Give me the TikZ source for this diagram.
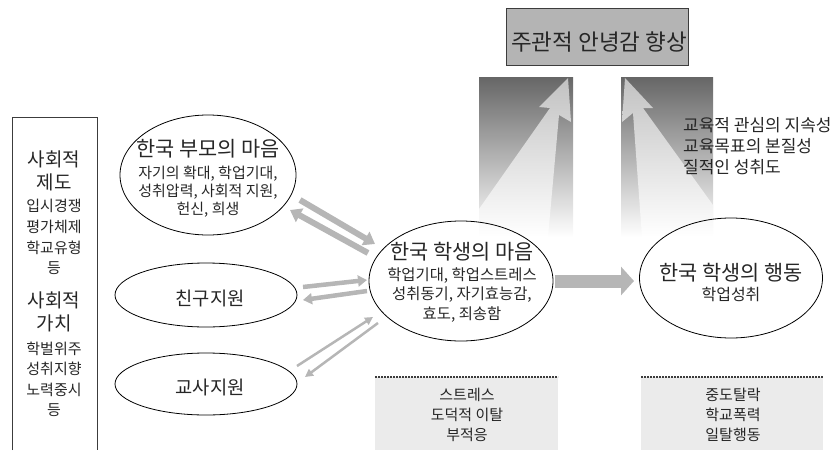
\documentclass[tikz,border=0pt]{standalone}
\usepackage{fontspec}
\setmainfont{Noto Sans CJK KR}
\usetikzlibrary{arrows.meta,shapes.geometric}
\definecolor{arrgray}{RGB}{182,182,182}
\definecolor{boxgray}{RGB}{180,180,180}
\definecolor{lightbox}{RGB}{235,235,235}
\definecolor{linegray}{RGB}{60,60,60}
\newcommand{\fsz}[2]{\fontsize{#1}{#2}\selectfont}
\begin{document}
\begin{tikzpicture}[x=1pt,y=-1pt,
  oval/.style={draw=black, line width=0.8pt, ellipse, inner sep=0pt},
  txt/.style={align=center, inner sep=0pt, text=black!85},
  fatarrow/.style={draw=arrgray, line width=6pt, -{Triangle[width=15pt,length=11pt]}},
  midarrow/.style={draw=arrgray, line width=4.5pt, -{Triangle[width=11pt,length=9pt]}},
  thinarrow/.style={draw=arrgray, line width=2.5pt, -{Triangle[width=8pt,length=8pt]}},
  hugearrow/.style={draw=arrgray, line width=13pt, -{Triangle[width=28pt,length=13pt]}},
  panel/.style={top color=black!60, middle color=black!28, bottom color=white},
  upshaft/.style={top color=black!24, bottom color=white}
]
\useasboundingbox (0,0) rectangle (833,450);

% left box
\draw[linegray, line width=1pt] (12,450) -- (12,117) -- (97,117) -- (97,450);
\node[txt, font=\fsz{15}{20.7}] (inst) at (54,213) {{\fsz{19}{20.7}사회적}\\[2.3pt]{\fsz{19}{20.7}제도}\\[1.3pt]입시경쟁\\평가체제\\학교유형\\등};
\node[txt, font=\fsz{15}{20.5}] (vals) at (54,354) {{\fsz{19}{20.5}사회적}\\[2.5pt]{\fsz{19}{20.5}가치}\\[3.5pt]학벌위주\\성취지향\\노력중시\\등};

% top box
\node[draw=linegray, line width=1pt, fill=boxgray, minimum width=182pt, minimum height=57pt, inner sep=0pt] (well) at (597,36.5) {};
\node[txt, font=\fsz{22.5}{26}] (wellT) at (599,42) {주관적 안녕감 향상};

% gradient panels with arrows
\shade[panel] (479,77) rectangle (573,237);
\shade[panel] (621,77) rectangle (713,237);
\shade[upshaft] (568,78) -- (571,122) -- (559,115) -- (548,237) -- (479,237) -- (479,209) -- (550,108) -- (539,107) -- cycle;
\shade[upshaft] (625,78) -- (653,108) -- (643,108) -- (713,205) -- (713,237) -- (642,237) -- (633,113) -- (622,122) -- cycle;

\node[txt, anchor=west, align=left, font=\fsz{17}{21}] (goals) at (683,146) {교육적 관심의 지속성\\교육목표의 본질성\\질적인 성취도};

% ellipses
\node[oval, minimum width=176pt, minimum height=120pt] (parent) at (208,175) {};
\node[txt, font=\fsz{15}{17.8}] (parentT) at (208,178.5) {{\fsz{20.8}{17.8}한국 부모의 마음}\\[4pt]자기의 확대, 학업기대,\\성취압력, 사회적 지원,\\헌신, 희생};

\node[oval, minimum width=182pt, minimum height=64pt] (friend) at (206,295) {};
\node[txt, font=\fsz{18.75}{22}] (friendT) at (210,298) {친구지원};

\node[oval, minimum width=182pt, minimum height=62pt] (teacher) at (206,384) {};
\node[txt, font=\fsz{18.75}{22}] (teacherT) at (210,387) {교사지원};

\node[oval, minimum width=184pt, minimum height=120pt] (student) at (461,281) {};
\node[txt, font=\fsz{15.4}{19.5}] (studentT) at (462,282) {{\fsz{20.8}{19.5}한국 학생의 마음}\\[1.5pt]학업기대, 학업스트레스\\성취동기, 자기효능감,\\효도, 죄송함};

\node[oval, minimum width=183pt, minimum height=120pt] (behav) at (731,278) {};
\node[txt, font=\fsz{16}{20}] (behavT) at (731,282) {{\fsz{20.8}{20}한국 학생의 행동}\\학업성취};

% bottom boxes
\fill[lightbox] (375,377) rectangle (558,450);
\draw[linegray, line width=1.2pt, dash pattern=on 2pt off 1pt] (375,377) -- (558,377);
\node[txt, font=\fsz{15}{20}] (stress) at (467,415) {스트레스\\도덕적 이탈\\부적응};
\fill[lightbox] (641,377) rectangle (823,450);
\draw[linegray, line width=1.2pt, dash pattern=on 2pt off 1pt] (641,377) -- (823,377);
\node[txt, font=\fsz{15}{20}] (deviant) at (733,415) {중도탈락\\학교폭력\\일탈행동};

% connector end points
\coordinate (pa) at (300,200);
\coordinate (pb) at (375,244);
\coordinate (pc) at (368,253);
\coordinate (pd) at (290,210);
\coordinate (fa) at (303,287);
\coordinate (fb) at (367,280);
\coordinate (fc) at (367,291);
\coordinate (fd) at (303,300);
\coordinate (ta) at (297,366);
\coordinate (tb) at (373,317);
\coordinate (tc) at (378,323);
\coordinate (td) at (305,377);
\coordinate (sa) at (555,281);
\coordinate (sb) at (634,281);

\draw[fatarrow] (pa) -- (pb);
\draw[fatarrow] (pc) -- (pd);
\draw[midarrow] (fa) -- (fb);
\draw[midarrow] (fc) -- (fd);
\draw[thinarrow] (ta) -- (tb);
\draw[thinarrow] (tc) -- (td);
\draw[hugearrow] (sa) -- (sb);
\end{tikzpicture}
\end{document}
